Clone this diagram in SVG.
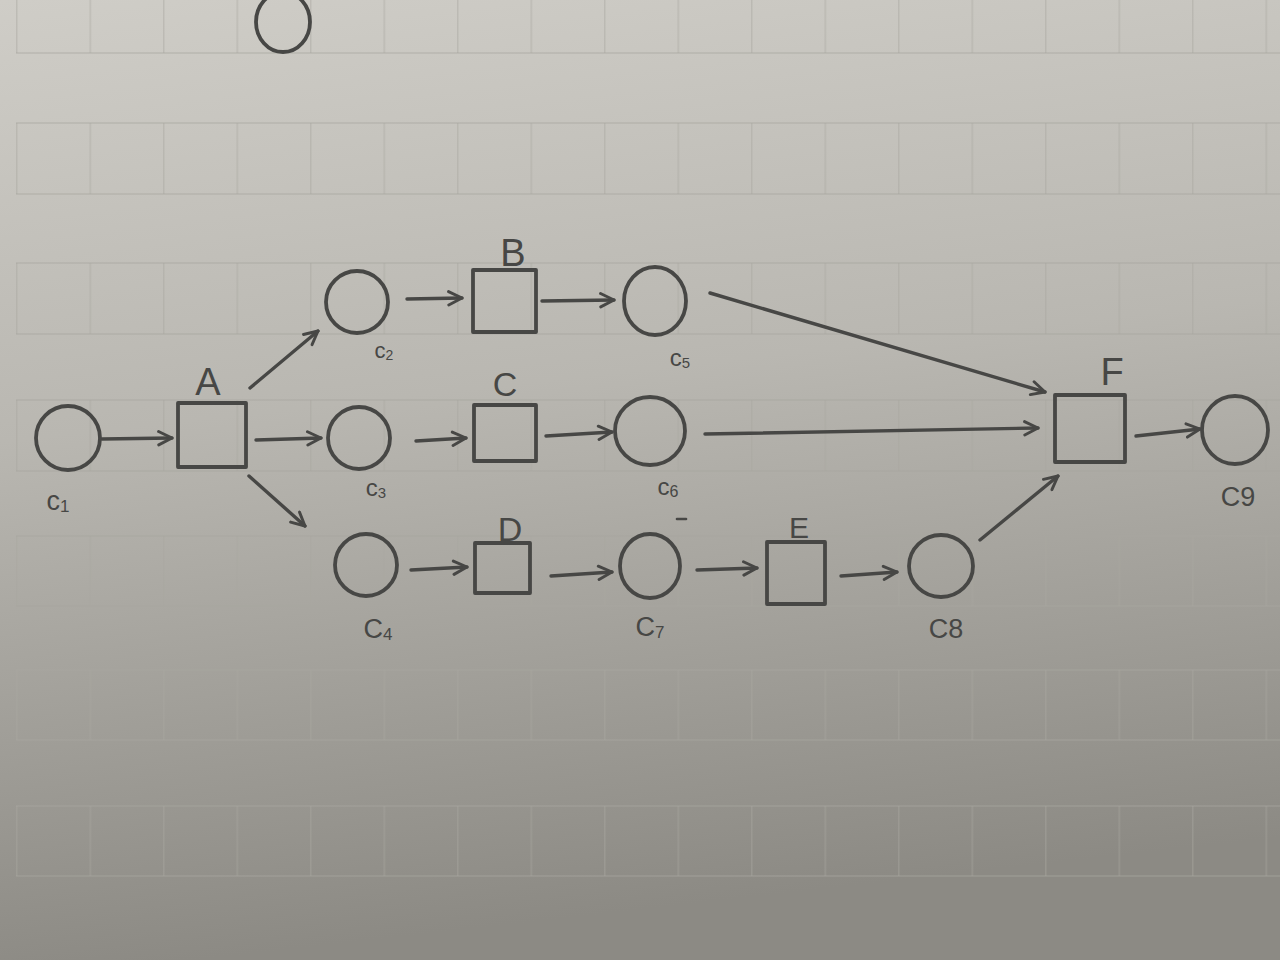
<svg xmlns="http://www.w3.org/2000/svg" width="1280" height="960" viewBox="0 0 1280 960">
<defs>
<linearGradient id="paper" x1="0" y1="0" x2="0.15" y2="1">
<stop offset="0" stop-color="#cfcdc7"/>
<stop offset="0.45" stop-color="#b9b7b1"/>
<stop offset="1" stop-color="#8c8a84"/>
</linearGradient>
<pattern id="vl" x="16" y="0" width="73.5" height="20" patternUnits="userSpaceOnUse">
<rect x="0" y="0" width="1.5" height="20" fill="#a9a7a1" opacity="0.45"/>
</pattern>
<marker id="ah" viewBox="0 0 14 14" refX="12.5" refY="7" markerWidth="17" markerHeight="17" markerUnits="userSpaceOnUse" orient="auto">
<path d="M1.5,1.5 L12.5,7 L1.5,12.5" fill="none" stroke="#474745" stroke-width="2.4" stroke-linecap="round" stroke-linejoin="round"/>
</marker>
</defs>
<style>
.ink{fill:none;stroke:#474745;stroke-width:3.8;stroke-linecap:round;stroke-linejoin:round}
.edge{fill:none;stroke:#474745;stroke-width:3.4;stroke-linecap:round;marker-end:url(#ah)}
.lab{font-family:"Liberation Sans","DejaVu Sans",sans-serif;fill:#474745;text-anchor:middle}
.big{font-size:38px}
.cl{font-size:27px}
.sub{font-size:17px}
.band{fill:url(#vl)}
.hl{stroke:#a9a7a1;stroke-width:1.5;opacity:0.5}
</style>
<rect x="0" y="0" width="1280" height="960" fill="url(#paper)"/>
<g id="grid">
<rect class="band" x="16" y="0" width="1264" height="53"/>
<rect class="band" x="16" y="123" width="1264" height="71"/>
<rect class="band" x="16" y="263" width="1264" height="71"/>
<rect class="band" x="16" y="400" width="1264" height="71"/>
<rect class="band" x="16" y="536" width="1264" height="70"/>
<rect class="band" x="16" y="670" width="1264" height="70"/>
<rect class="band" x="16" y="806" width="1264" height="70"/>
<line class="hl" x1="16" y1="53" x2="1280" y2="53"/>
<line class="hl" x1="16" y1="123" x2="1280" y2="123"/>
<line class="hl" x1="16" y1="194" x2="1280" y2="194"/>
<line class="hl" x1="16" y1="263" x2="1280" y2="263"/>
<line class="hl" x1="16" y1="334" x2="1280" y2="334"/>
<line class="hl" x1="16" y1="400" x2="1280" y2="400"/>
<line class="hl" x1="16" y1="471" x2="1280" y2="471"/>
<line class="hl" x1="16" y1="536" x2="1280" y2="536"/>
<line class="hl" x1="16" y1="606" x2="1280" y2="606"/>
<line class="hl" x1="16" y1="670" x2="1280" y2="670"/>
<line class="hl" x1="16" y1="740" x2="1280" y2="740"/>
<line class="hl" x1="16" y1="806" x2="1280" y2="806"/>
<line class="hl" x1="16" y1="876" x2="1280" y2="876"/>
</g>
<g id="connectors">
<line class="edge" x1="102" y1="439" x2="172" y2="438"/>
<line class="edge" x1="250" y1="388" x2="318" y2="331"/>
<line class="edge" x1="256" y1="440" x2="321" y2="438"/>
<line class="edge" x1="249" y1="476" x2="305" y2="526"/>
<line class="edge" x1="407" y1="299" x2="462" y2="298"/>
<line class="edge" x1="542" y1="301" x2="614" y2="300"/>
<line class="edge" x1="710" y1="293" x2="1045" y2="392"/>
<line class="edge" x1="416" y1="441" x2="466" y2="438"/>
<line class="edge" x1="546" y1="436" x2="612" y2="432"/>
<line class="edge" x1="705" y1="434" x2="1038" y2="428"/>
<line class="edge" x1="411" y1="570" x2="467" y2="567"/>
<line class="edge" x1="551" y1="576" x2="612" y2="572"/>
<line class="edge" x1="697" y1="570" x2="757" y2="568"/>
<line class="edge" x1="841" y1="576" x2="897" y2="572"/>
<line class="edge" x1="980" y1="540" x2="1058" y2="476"/>
<line class="edge" x1="1136" y1="436" x2="1200" y2="429"/>
</g>
<g id="top-circle"><ellipse class="ink" cx="283" cy="22" rx="27" ry="30"/></g>
<g id="C1"><ellipse class="ink" cx="68" cy="438" rx="32" ry="32"/><text class="lab cl" x="58" y="510">c<tspan class="sub" dy="2">1</tspan></text></g>
<g id="A"><rect class="ink" x="178" y="403" width="68" height="64"/><text class="lab big" x="208" y="395">A</text></g>
<g id="C2"><ellipse class="ink" cx="357" cy="302" rx="31" ry="31"/><text class="lab cl" x="384" y="358" style="font-size:22px">c<tspan class="sub" dy="2" style="font-size:14px">2</tspan></text></g>
<g id="C3"><ellipse class="ink" cx="359" cy="438" rx="31" ry="31"/><text class="lab cl" x="376" y="496" style="font-size:24px">c<tspan class="sub" dy="2" style="font-size:15px">3</tspan></text></g>
<g id="C4"><ellipse class="ink" cx="366" cy="565" rx="31" ry="31"/><text class="lab cl" x="378" y="638">C<tspan class="sub" dy="2">4</tspan></text></g>
<g id="B"><rect class="ink" x="473" y="270" width="63" height="62"/><text class="lab big" x="513" y="266">B</text></g>
<g id="C"><rect class="ink" x="474" y="405" width="62" height="56"/><text class="lab big" x="505" y="396" style="font-size:34px">C</text></g>
<g id="D"><rect class="ink" x="475" y="543" width="55" height="50"/><text class="lab big" x="510" y="541" style="font-size:34px">D</text></g>
<g id="C5"><ellipse class="ink" cx="655" cy="301" rx="31" ry="34"/><text class="lab cl" x="680" y="366" style="font-size:24px">c<tspan class="sub" dy="2" style="font-size:15px">5</tspan></text></g>
<g id="C6"><ellipse class="ink" cx="650" cy="431" rx="35" ry="34"/><text class="lab cl" x="668" y="495" style="font-size:24px">c<tspan class="sub" dy="2" style="font-size:16px">6</tspan></text></g>
<g id="C7"><ellipse class="ink" cx="650" cy="566" rx="30" ry="32"/><line class="ink" x1="677" y1="519" x2="686" y2="519" style="stroke-width:2.6"/><text class="lab cl" x="650" y="636">C<tspan class="sub" dy="2">7</tspan></text></g>
<g id="E"><rect class="ink" x="767" y="542" width="58" height="62"/><text class="lab big" x="799" y="538" style="font-size:30px">E</text></g>
<g id="C8"><ellipse class="ink" cx="941" cy="566" rx="32" ry="31"/><text class="lab cl" x="946" y="638">C8</text></g>
<g id="F"><rect class="ink" x="1055" y="395" width="70" height="67"/><text class="lab big" x="1112" y="385">F</text></g>
<g id="C9"><ellipse class="ink" cx="1235" cy="430" rx="33" ry="34"/><text class="lab cl" x="1238" y="506">C9</text></g>
</svg>
